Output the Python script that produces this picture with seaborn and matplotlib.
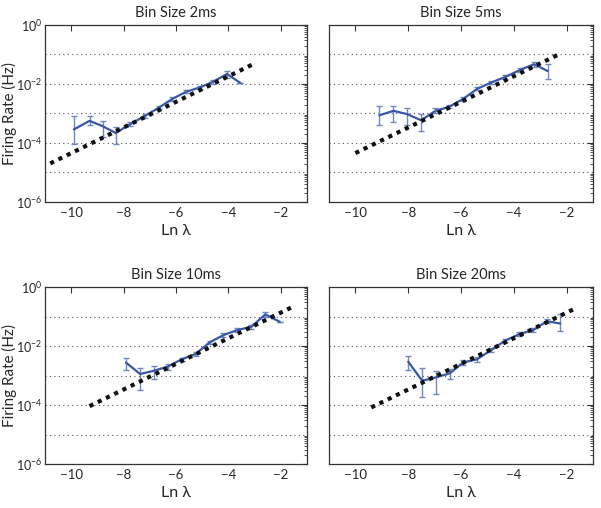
import numpy as np
import pandas as pd
import matplotlib
matplotlib.use("Agg")
import matplotlib.pyplot as plt
import seaborn as sns
from matplotlib.ticker import LogLocator, FixedLocator, NullFormatter

# ---------------- data (log10 of firing rate) ----------------
titles = ["Bin Size 2ms", "Bin Size 5ms", "Bin Size 10ms", "Bin Size 20ms"]

x_2ms = [-9.9, -9.3, -8.8, -8.3, -7.75, -7.2, -6.65, -6.15, -5.6, -5.1, -4.6, -4.05, -3.55]
y_2ms = [-3.54, -3.25, -3.43, -3.66, -3.36, -3.09, -2.80, -2.51, -2.26, -2.12, -1.93, -1.66, -1.96]
lo_2ms = [-4.04, -3.40, -3.80, -4.04, -3.42, -3.15, -2.86, -2.57, -2.32, -2.18, -1.99, -1.78, -1.96]
hi_2ms = [-3.09, -3.09, -3.25, -3.47, -3.30, -3.03, -2.74, -2.45, -2.20, -2.06, -1.87, -1.57, -1.96]

x_5ms = [-9.09, -8.56, -8.04, -7.51, -6.97, -6.44, -5.91, -5.38, -4.85, -4.32, -3.78, -3.23, -2.72]
y_5ms = [-3.06, -2.91, -3.02, -3.23, -2.91, -2.77, -2.50, -2.16, -1.95, -1.76, -1.53, -1.33, -1.56]
lo_5ms = [-3.40, -3.30, -3.40, -3.60, -2.99, -2.83, -2.56, -2.22, -2.01, -1.82, -1.59, -1.41, -1.84]
hi_5ms = [-2.75, -2.73, -2.82, -3.03, -2.83, -2.71, -2.44, -2.10, -1.89, -1.70, -1.47, -1.24, -1.32]

x_10ms = [-7.91, -7.37, -6.85, -6.32, -5.78, -5.25, -4.72, -4.19, -3.66, -3.13, -2.59, -2.04]
y_10ms = [-2.56, -2.95, -2.84, -2.70, -2.45, -2.27, -1.88, -1.63, -1.46, -1.35, -0.93, -1.18]
lo_10ms = [-2.82, -3.49, -3.13, -2.82, -2.51, -2.33, -1.94, -1.69, -1.52, -1.41, -1.03, -1.18]
hi_10ms = [-2.39, -2.73, -2.68, -2.61, -2.39, -2.21, -1.82, -1.57, -1.40, -1.29, -0.84, -1.18]

x_20ms = [-8.0, -7.47, -6.94, -6.43, -5.92, -5.39, -4.86, -4.33, -3.80, -3.27, -2.74, -2.24]
y_20ms = [-2.53, -3.18, -3.06, -2.93, -2.56, -2.45, -2.14, -1.82, -1.60, -1.46, -1.16, -1.24]
lo_20ms = [-2.82, -3.74, -3.62, -3.13, -2.64, -2.53, -2.20, -1.88, -1.66, -1.52, -1.22, -1.49]
hi_20ms = [-2.34, -2.75, -2.84, -2.79, -2.48, -2.37, -2.08, -1.76, -1.54, -1.40, -1.10, -0.92]

# fitted reference line (rate = lambda) extents in Ln(lambda)
fit_range = [(-10.8, -3.0), (-10.0, -2.2), (-9.3, -1.5), (-9.4, -1.7)]

series = [(x_2ms, y_2ms, lo_2ms, hi_2ms), (x_5ms, y_5ms, lo_5ms, hi_5ms),
          (x_10ms, y_10ms, lo_10ms, hi_10ms), (x_20ms, y_20ms, lo_20ms, hi_20ms)]

xticks = [-10, -8, -6, -4, -2]
yticks_exp = [0, -2, -4, -6]

# ---------------- figure ----------------
sns.set_theme(style="white")
plt.rcParams['font.family'] = ['Lato', 'DejaVu Sans']
plt.rcParams['mathtext.fontset'] = 'custom'
plt.rcParams['mathtext.rm'] = 'Lato'
plt.rcParams['mathtext.it'] = 'Lato:italic'

W, H = 601, 508
fig = plt.figure(figsize=(W / 100, H / 100), dpi=100)

boxes = [(45, 25, 307, 202), (329, 25, 593, 202), (45, 287, 307, 464), (329, 287, 593, 464)]
line_color = "#3a56a8"
err_color = "#6f88c4"

for i, (box, (xs, ys, lo, hi)) in enumerate(zip(boxes, series)):
    l, t, r, b = box
    ax = fig.add_axes([l / W, 1 - b / H, (r - l) / W, (b - t) / H])
    xs = np.array(xs); ys = 10 ** np.array(ys)
    lo_v = 10 ** np.array(lo); hi_v = 10 ** np.array(hi)

    # horizontal dotted grid at each decade
    for e in [-1, -2, -3, -4, -5]:
        ax.axhline(10 ** e, color="#555555", lw=0.8, ls=(0, (1, 3)), zorder=0)

    df = pd.DataFrame({"lnl": xs, "rate": ys})
    sns.lineplot(data=df, x="lnl", y="rate", ax=ax, color=line_color, lw=1.6, zorder=3)
    ax.errorbar(xs, ys, yerr=[ys - lo_v, hi_v - ys], fmt="none", ecolor=err_color,
                elinewidth=1.0, capsize=2, capthick=1.0, zorder=2)

    fx = np.linspace(fit_range[i][0], fit_range[i][1], 100)
    fit_df = pd.DataFrame({"lnl": fx, "rate": np.exp(fx)})
    sns.lineplot(data=fit_df, x="lnl", y="rate", ax=ax, color="#111111", lw=3.0,
                 linestyle=(0, (1, 1.2)), zorder=4)

    ax.set_yscale("log")
    ax.set_xlim(-11, -1)
    ax.set_ylim(1e-6, 1)
    ax.set_xticks(xticks)
    ax.set_xticklabels(["\u2212%d" % abs(v) for v in xticks])
    ax.yaxis.set_major_locator(FixedLocator([10.0 ** e for e in yticks_exp]))
    ax.yaxis.set_minor_locator(LogLocator(base=10, subs=np.arange(2, 10), numticks=20))
    ax.yaxis.set_minor_formatter(NullFormatter())
    if i % 2 == 0:
        ax.set_yticklabels([r"$10^{%d}$" % e for e in yticks_exp])
        ax.set_ylabel("Firing Rate (Hz)", fontsize=11)
        ax.yaxis.set_label_coords(-0.108, 0.5)
    else:
        ax.set_yticklabels([])
        ax.set_ylabel("")
    ax.set_xlabel("Ln \u03bb", fontsize=11.5, labelpad=4)
    ax.set_title(titles[i], fontsize=10.5, pad=6)
    ax.tick_params(axis="both", which="both", direction="in", top=True, right=True,
                   labelsize=9.5, color="#333333")
    ax.tick_params(axis="y", which="major", pad=2, labelsize=9)
    ax.tick_params(axis="both", which="major", length=4, width=0.8)
    ax.tick_params(axis="y", which="minor", length=2, width=0.6)
    for s in ax.spines.values():
        s.set_color("#333333")
        s.set_linewidth(0.9)

fig.savefig("out.png", dpi=100, facecolor="white")
